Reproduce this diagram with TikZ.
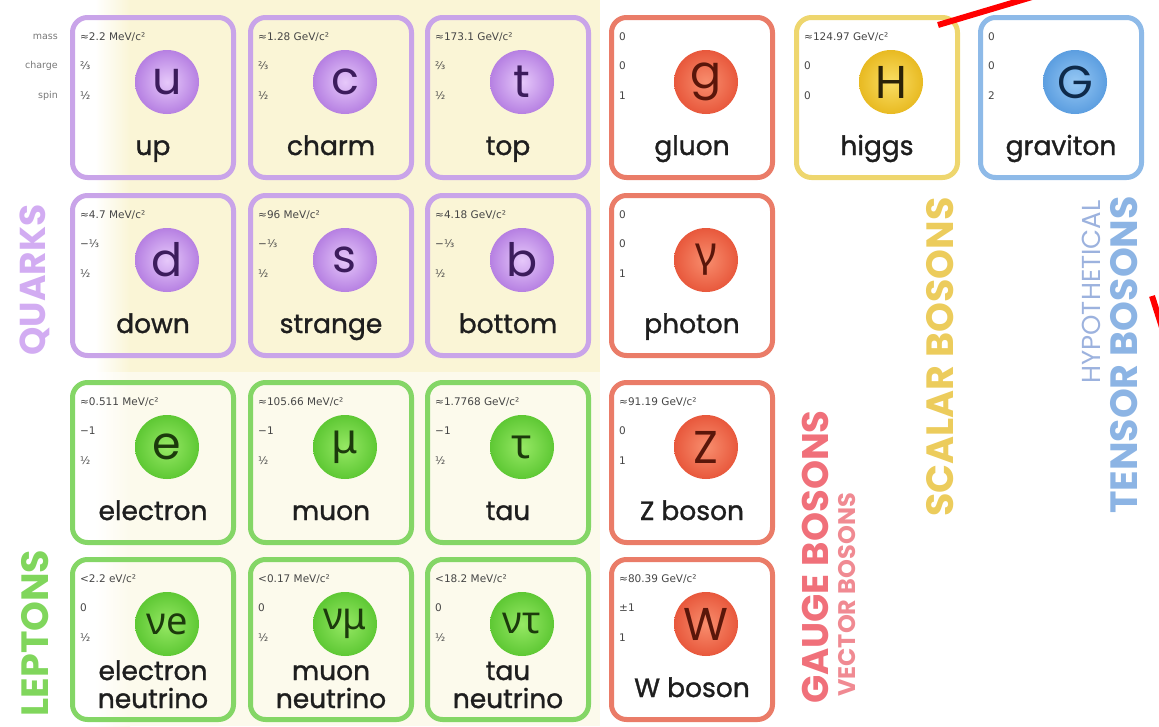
\documentclass[tikz,border=0pt]{standalone}
\usepackage{fontspec}
\setmainfont{Poppins}
\newfontfamily\namef{Poppins}[FakeBold=1.2]
\newfontfamily\grk{Noto Sans}
\newfontfamily\smallf{DejaVu Sans}
\definecolor{qbd}{RGB}{201,164,233}
\definecolor{lbd}{RGB}{132,214,102}
\definecolor{gbd}{RGB}{234,124,104}
\definecolor{hbd}{RGB}{238,214,110}
\definecolor{tbd}{RGB}{142,186,232}
\definecolor{qc1}{RGB}{230,200,250}
\definecolor{qc2}{RGB}{182,128,226}
\definecolor{lc1}{RGB}{150,232,100}
\definecolor{lc2}{RGB}{94,200,52}
\definecolor{gc1}{RGB}{248,142,110}
\definecolor{gc2}{RGB}{232,88,60}
\definecolor{hc1}{RGB}{250,222,100}
\definecolor{hc2}{RGB}{232,186,34}
\definecolor{tc1}{RGB}{150,200,244}
\definecolor{tc2}{RGB}{92,158,224}
\definecolor{qtx}{RGB}{60,28,92}
\definecolor{ltx}{RGB}{28,58,12}
\definecolor{gtx}{RGB}{90,22,10}
\definecolor{htx}{RGB}{42,34,8}
\definecolor{ttx}{RGB}{14,42,74}
\definecolor{qbg}{RGB}{250,245,214}
\definecolor{lbg}{RGB}{252,250,236}
\definecolor{infotext}{RGB}{70,70,70}
\definecolor{sidetext}{RGB}{120,120,120}
\definecolor{nametext}{RGB}{30,30,30}
\definecolor{quarkv}{RGB}{210,172,242}
\definecolor{leptonv}{RGB}{128,214,92}
\definecolor{gaugev}{RGB}{240,112,122}
\definecolor{vectorv}{RGB}{240,138,146}
\definecolor{scalarv}{RGB}{236,204,92}
\definecolor{tensorv}{RGB}{140,180,228}
\definecolor{hypov}{RGB}{156,178,222}
\newcommand\infofont{\smallf\fontsize{10.5}{12}\selectfont}
\newcommand\sidefont{\smallf\fontsize{9.5}{11}\selectfont}
\newcommand\namefont{\namef\fontsize{26.5}{28}\selectfont}
\newcommand\symfont{\fontsize{46}{46}\selectfont}
\newcommand\nufont{\grk\fontsize{38}{38}\selectfont}
\newcommand\bigv[1]{\bfseries\fontsize{#1}{#1}\selectfont}
\tikzset{
  cell/.style={rounded corners=15, line width=5, minimum width=161, minimum height=160, inner sep=0},
  qcell/.style={draw=qbd},
  lcell/.style={draw=lbd},
  gcell/.style={draw=gbd, fill=white},
  hcell/.style={draw=hbd, fill=white},
  tcell/.style={draw=tbd, fill=white},
  ball/.style={circle, minimum size=64, inner sep=0},
  info/.style={font=\infofont, text=infotext, anchor=west, inner sep=0},
  side/.style={font=\sidefont, text=sidetext, anchor=east, inner sep=0},
  pname/.style={font=\namefont, text=nametext, anchor=base, inner sep=0},
  vlab/.style={rotate=90, inner sep=0, anchor=center},
  scribble/.style={draw=red, line width=6},
}
% #1 name, #2 x, #3 y, #4 group, #5 symbol, #6 mass, #7 charge, #8 spin, #9 label
\newcommand\pcell[9]{%
  \node[cell, #4cell] (#1) at ({#2+83},{#3+82.5}) {};
  \node[ball, inner color=#4c1, outer color=#4c2, text=#4tx] (#1b) at ({#2+97},{#3+67}) {#5};
  \node[info] (#1m) at ({#2+10},{#3+22}) {#6};
  \node[info] (#1q) at ({#2+10},{#3+51}) {#7};
  \node[info] (#1s) at ({#2+10},{#3+81}) {#8};
  \node[pname] (#1n) at ({#2+83},{#3+140}) {#9};
}
\begin{document}
\begin{tikzpicture}[x=1pt,y=-1pt]
\useasboundingbox (0,0) rectangle (1159,726);
\clip (0,0) rectangle (1159,726);
% backgrounds
\fill[qbg] (130,0) rectangle (600,372);
\shade[left color=white, right color=qbg] (95,0) rectangle (130,372);
\fill[lbg] (130,372) rectangle (600,726);
\shade[left color=white, right color=lbg] (95,372) rectangle (130,726);
% side labels
\node[side] (lmass) at (58,37) {mass};
\node[side] (lcharge) at (58,66) {charge};
\node[side] (lspin) at (58,96) {spin};
% row 1
\pcell{up}{70}{15}{q}{\symfont u}{≈2.2 MeV/c²}{⅔}{½}{up}
\pcell{charm}{248}{15}{q}{\symfont c}{≈1.28 GeV/c²}{⅔}{½}{charm}
\pcell{top}{425}{15}{q}{\symfont t}{≈173.1 GeV/c²}{⅔}{½}{top}
\pcell{gluon}{609}{15}{g}{\symfont g}{0}{0}{1}{gluon}
\pcell{higgs}{794}{15}{h}{\symfont H}{≈124.97 GeV/c²}{0}{0}{higgs}
\pcell{graviton}{978}{15}{t}{\symfont G}{0}{0}{2}{graviton}
% row 2
\pcell{down}{70}{193}{q}{\symfont d}{≈4.7 MeV/c²}{−⅓}{½}{down}
\pcell{strange}{248}{193}{q}{\symfont s}{≈96 MeV/c²}{−⅓}{½}{strange}
\pcell{bottom}{425}{193}{q}{\symfont b}{≈4.18 GeV/c²}{−⅓}{½}{bottom}
\pcell{photon}{609}{193}{g}{\grk\fontsize{42}{42}\selectfont γ}{0}{0}{1}{photon}
% row 3
\pcell{electron}{70}{380}{l}{\symfont e}{≈0.511 MeV/c²}{−1}{½}{electron}
\pcell{muon}{248}{380}{l}{\grk\fontsize{42}{42}\selectfont μ}{≈105.66 MeV/c²}{−1}{½}{muon}
\pcell{tau}{425}{380}{l}{\grk\fontsize{42}{42}\selectfont τ}{≈1.7768 GeV/c²}{−1}{½}{tau}
\pcell{zboson}{609}{380}{g}{\symfont Z}{≈91.19 GeV/c²}{0}{1}{Z boson}
% row 4
\pcell{enu}{70}{557}{l}{\nufont νe}{<2.2 eV/c²}{0}{½}{}
\pcell{munu}{248}{557}{l}{\nufont νμ}{<0.17 MeV/c²}{0}{½}{}
\pcell{taunu}{425}{557}{l}{\nufont ντ}{<18.2 MeV/c²}{0}{½}{}
\pcell{wboson}{609}{557}{g}{\symfont W}{≈80.39 GeV/c²}{±1}{1}{W boson}
\node[pname] (enu1) at (153,680) {electron};
\node[pname] (enu2) at (153,708) {neutrino};
\node[pname] (munu1) at (331,680) {muon};
\node[pname] (munu2) at (331,708) {neutrino};
\node[pname] (taunu1) at (508,680) {tau};
\node[pname] (taunu2) at (508,708) {neutrino};
% vertical group labels
\node[vlab, text=quarkv, font=\bigv{36}] (quarks) at (35,280) {QUARKS};
\node[vlab, text=leptonv, font=\bigv{38}] (leptons) at (35,633) {LEPTONS};
\node[vlab, text=gaugev, font=\bigv{37}] (gauge) at (815,557) {GAUGE BOSONS};
\node[vlab, text=vectorv, font=\bigv{24}] (vector) at (847,595) {VECTOR BOSONS};
\node[vlab, text=scalarv, font=\bigv{38}] (scalar) at (940,357) {SCALAR BOSONS};
\node[vlab, text=hypov, font=\fontsize{26}{26}\selectfont] (hypo) at (1091,292) {HYPOTHETICAL};
\node[vlab, text=tensorv, font=\bigv{38}] (tensor) at (1124,355) {TENSOR BOSONS};
% red scribbles
\coordinate (ra) at (938,25);
\coordinate (rb) at (1032,-3);
\draw[scribble] (ra) -- (rb);
\coordinate (rc) at (1152,296);
\coordinate (rd) at (1166,340);
\draw[scribble] (rc) -- (rd);
\end{tikzpicture}
\end{document}
